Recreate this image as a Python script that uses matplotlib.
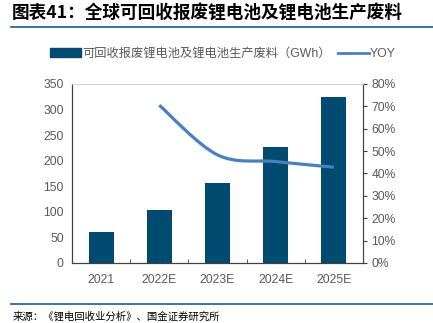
import numpy as np
import matplotlib as mpl
mpl.use("Agg")
import matplotlib.pyplot as plt
from matplotlib.path import Path
from matplotlib.patches import PathPatch
from matplotlib.lines import Line2D
from matplotlib.patches import Patch
from matplotlib.ticker import MultipleLocator, FuncFormatter

plt.rcParams['font.family'] = ['Liberation Sans', 'Noto Sans CJK SC', 'DejaVu Sans']

#data
years = ['2021', '2022E', '2023E', '2024E', '2025E']
waste_gwh = [61, 104, 157, 227, 325]
yoy_years = ['2022E', '2023E', '2024E', '2025E']
yoy = [0.705, 0.483, 0.453, 0.428]

bar_label = '可回收报废锂电池及锂电池生产废料（GWh）'
line_label = 'YOY'
title = '图表41：全球可回收报废锂电池及锂电池生产废料'
source = '来源：《锂电回收业分析》、国金证券研究所'

bar_color = '#014a70'
line_color = '#4a7fc0'
tick_color = '#595959'
rule_color = '#1f5a85'

fig = plt.figure(figsize=(4.33, 3.23), dpi=100)
ax = fig.add_axes([0.1663, 0.186, 0.672, 0.554])
ax2 = ax.twinx()

x = np.arange(len(years))
ax.bar(x, waste_gwh, width=0.43, color=bar_color, zorder=2)
ax.set_xlim(-0.5, len(years) - 0.5)
ax.set_ylim(0, 350)
ax.yaxis.set_major_locator(MultipleLocator(50))
ax.set_xticks(x)
ax.set_xticklabels(years)
ax.set_xticks(x[:-1] + 0.5, minor=True)
ax.tick_params(axis='x', which='major', length=0, pad=8, labelsize=8.7, labelcolor=tick_color)
ax.tick_params(axis='x', which='minor', direction='in', length=3, color='#404040')
ax.tick_params(axis='y', length=0, pad=6, labelsize=8.7, labelcolor=tick_color)

ax2.set_ylim(0, 0.8)
ax2.yaxis.set_major_locator(MultipleLocator(0.1))
ax2.yaxis.set_major_formatter(FuncFormatter(lambda v, p: '%d%%' % round(v * 100)))
ax2.tick_params(axis='y', direction='out', length=3, color='#404040', pad=3,
                labelsize=8.7, labelcolor=tick_color)

for a in (ax, ax2):
    a.spines['left'].set_color('#404040')
    a.spines['bottom'].set_color('#404040')
    a.spines['right'].set_color('#404040')
    a.spines['top'].set_color('#d0d0d0')
    a.spines['top'].set_linewidth(0.6)

#smooth yoy line (Catmull-Rom -> bezier) like the excel smoothed line
px = np.array([years.index(y) for y in yoy_years], dtype=float)
py = np.array(yoy)
pts = np.column_stack([px, py])
ext = np.vstack([pts[0], pts, pts[-1]])
verts = [tuple(pts[0])]
codes = [Path.MOVETO]
for i in range(len(pts) - 1):
    p0, p1, p2, p3 = ext[i], ext[i + 1], ext[i + 2], ext[i + 3]
    c1 = p1 + (p2 - p0) / 6
    c2 = p2 - (p3 - p1) / 6
    verts += [tuple(c1), tuple(c2), tuple(p2)]
    codes += [Path.CURVE4] * 3
ax2.add_patch(PathPatch(Path(verts, codes), fill=False, edgecolor=line_color,
                        lw=2.3, capstyle='butt', zorder=3))

handles = [Patch(color=bar_color), Line2D([], [], color=line_color, lw=2)]
fig.legend(handles, [bar_label, line_label], loc='center', bbox_to_anchor=(0.515, 0.833),
           ncol=2, frameon=False, fontsize=8.8, labelcolor=tick_color,
           handlelength=2.5, handleheight=0.7, handletextpad=0.1, columnspacing=0.6)

fig.text(0.028, 0.962, title, fontsize=12.7, fontweight='bold', color='black',
         family=['Noto Sans CJK SC', 'DejaVu Sans'], va='center')
fig.add_artist(Line2D([0.025, 1.0], [0.916, 0.916], transform=fig.transFigure,
                      color=rule_color, lw=1.2))
fig.add_artist(Line2D([0.025, 1.0], [0.059, 0.059], transform=fig.transFigure,
                      color=rule_color, lw=1.2))
fig.text(0.028, 0.019, source, fontsize=7.5, color='black',
         family=['Noto Sans CJK SC', 'DejaVu Sans'], va='center')

plt.savefig('out.png', dpi=100)
